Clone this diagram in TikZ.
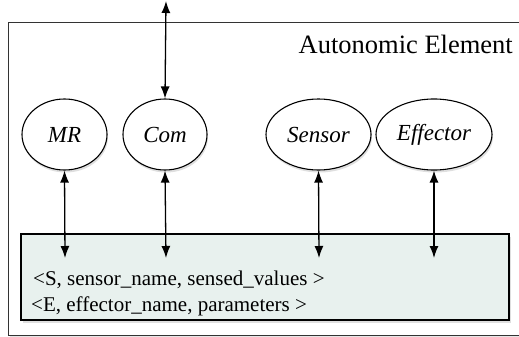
\documentclass[tikz,border=0pt]{standalone}
\usepackage{fontspec}
\setmainfont{Liberation Serif}
\usetikzlibrary{arrows.meta,shapes.geometric,shadows}
\definecolor{storefill}{HTML}{E8F1EE}
\tikzset{
  part/.style={ellipse, draw=black, line width=1.1pt, fill=white, inner sep=0pt,
    minimum height=71pt, font=\fontsize{23}{26}\selectfont\itshape,
    drop shadow={opacity=0.25, shadow xshift=1pt, shadow yshift=-2.5pt}},
  link/.style={line width=1.3pt, {Latex[length=12pt,width=9pt]}-{Latex[length=12pt,width=9pt]}},
  entry/.style={anchor=base west, inner sep=0pt, font=\fontsize{21}{24}\selectfont}
}
\begin{document}
\begin{tikzpicture}[x=1pt,y=-1pt]
\useasboundingbox (0,0) rectangle (519,337);
% element frame
\begin{scope}
\clip (0,0) rectangle (519,337);
\fill[black!10] (10,26) rectangle (530,337);
\draw[line width=1pt, draw=black!80, fill=white] (8,23) rectangle (530,335);
\end{scope}
\node[anchor=base east, inner sep=0pt, font=\fontsize{26.5}{30}\selectfont] (title) at (513,53) {Autonomic Element};
% shared data area
\node[draw=black, line width=1.1pt, fill=storefill, minimum width=488pt, minimum height=86pt, inner sep=0pt,
  drop shadow={opacity=0.25, shadow xshift=1.5pt, shadow yshift=-2.5pt}] (store) at (265,277) {};
\node[entry] (sline) at (33,285) {<S, sensor\_name, sensed\_values >};
\node[entry] (eline) at (31,311) {<E, effector\_name, parameters >};
% components
\node[part, minimum width=85pt] (mr) at (64.5,134.5) {MR};
\node[part, minimum width=84pt] (com) at (165,134.5) {Com};
\node[part, minimum width=105pt] (sensor) at (318.5,134.5) {Sensor};
\node[part, minimum width=116pt] (effector) at (434,134.5) {Effector};
% connectors
\coordinate (outside) at (166,1);
\coordinate (mrend) at (65,258);
\coordinate (comend) at (166,258);
\coordinate (sensorend) at (319,258);
\coordinate (effectorend) at (434,258);
\draw[link] (outside) -- (com.north);
\draw[link] (mr.south) -- (mrend);
\draw[link] (com.south) -- (comend);
\draw[link] (sensor.south) -- (sensorend);
\draw[link] (effector.south) -- (effectorend);
\end{tikzpicture}
\end{document}
